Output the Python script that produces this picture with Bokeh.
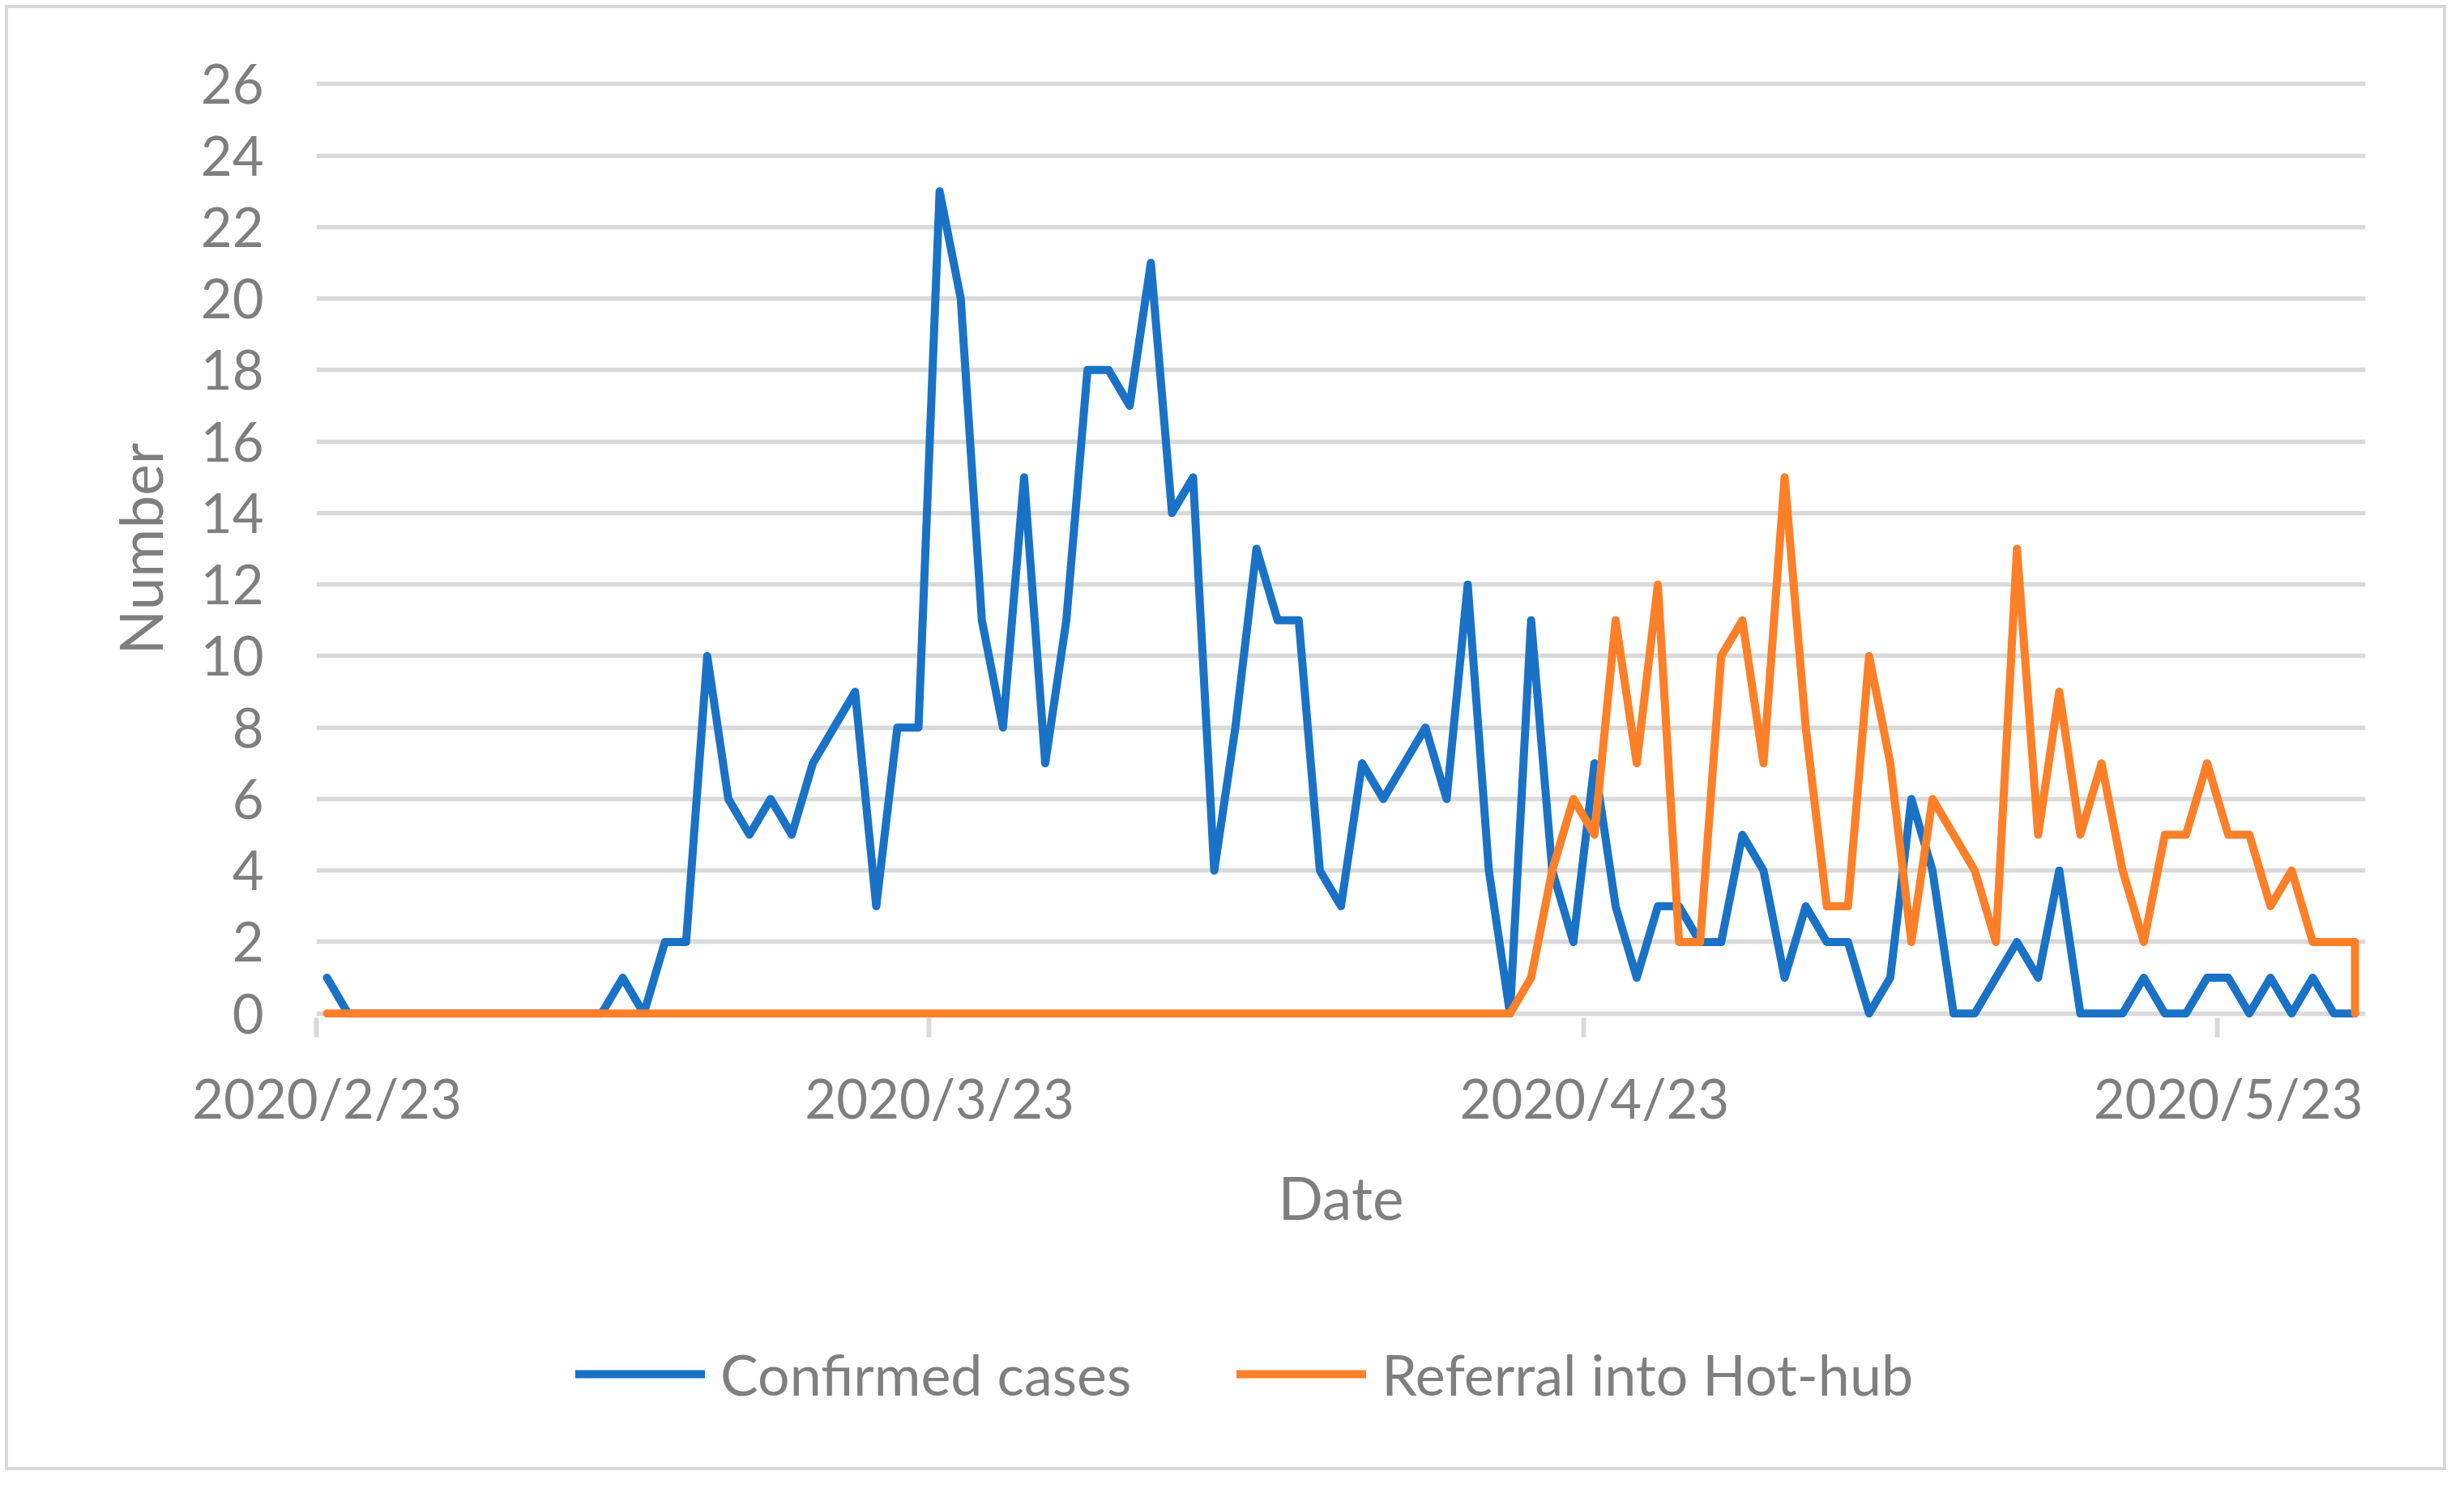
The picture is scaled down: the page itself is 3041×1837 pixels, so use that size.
import pandas as pd
from bokeh.plotting import figure
from bokeh.layouts import column
from bokeh.models import (Range1d, FixedTicker, LinearAxis, Legend, LegendItem)
from bokeh.embed import file_html
from bokeh.resources import INLINE

# ---------------- data ----------------
start_date = "2020-02-23"
end_date = "2020-05-29"
tick_dates = ["2020-02-23", "2020-03-23", "2020-04-23", "2020-05-23"]
tick_labels = ["2020/2/23", "2020/3/23", "2020/4/23", "2020/5/23"]
y_ticks = list(range(0, 27, 2))

confirmed = [1, 0, 0, 0, 0, 0, 0, 0, 0, 0, 0, 0, 0, 0, 1, 0, 2, 2, 10, 6,
             5, 6, 5, 7, 8, 9, 3, 8, 8, 23, 20, 11, 8, 15, 7, 11, 18, 18, 17, 21,
             14, 15, 4, 8, 13, 11, 11, 4, 3, 7, 6, 7, 8, 6, 12, 4, 0, 11, 4, 2,
             7, 3, 1, 3, 3, 2, 2, 5, 4, 1, 3, 2, 2, 0, 1, 6, 4, 0, 0, 1,
             2, 1, 4, 0, 0, 0, 1, 0, 0, 1, 1, 0, 1, 0, 1, 0, 0]
referral = [0] * 57 + [1, 4, 6,
            5, 11, 7, 12, 2, 2, 10, 11, 7, 15, 8, 3, 3, 10, 7, 2, 6, 5, 4, 2,
            13, 5, 9, 5, 7, 4, 2, 5, 5, 7, 5, 5, 3, 4, 2, 2, 2]
referral_end = 0  # final drop plotted on the last date
series_names = ["Confirmed cases", "Referral into Hot-hub"]

dates = pd.date_range(start_date, end_date, freq="D")
day = [(d - dates[0]).days for d in dates]
ref_day = day + [day[-1]]
ref_vals = referral + [referral_end]
tick_pos = [(pd.Timestamp(t) - dates[0]).days for t in tick_dates]

BLUE = "#1a72c7"
ORANGE = "#fd7f28"
GRID = "#d9d9d9"
TXT = "#7f7f7f"
FONT = "Lato"
LW = 10

W = 3025
H1 = 1600
H2 = 221

pad = 0.12
p = figure(width=W, height=H1, output_backend="svg", toolbar_location=None,
           x_range=Range1d(day[0] - 0.5, day[-1] + 0.5),
           y_range=Range1d(-pad, 26 + pad),
           min_border_left=390, min_border_right=106, min_border_top=98,
           min_border_bottom=H1 - 1256)
p.outline_line_color = None
p.border_fill_color = None
p.background_fill_color = None

# lines
r1 = p.line(day, confirmed, line_color=BLUE, line_width=LW,
            line_join="round", line_cap="round")
r2 = p.line(ref_day, ref_vals, line_color=ORANGE, line_width=LW,
            line_join="round", line_cap="round")

# y axis / grid
p.yaxis.ticker = FixedTicker(ticks=y_ticks)
p.yaxis.axis_line_color = None
p.yaxis.major_tick_line_color = None
p.yaxis.minor_tick_line_color = None
p.yaxis.major_tick_out = 0
p.yaxis.major_tick_in = 0
p.yaxis.major_label_standoff = 65
p.yaxis.major_label_text_font = FONT
p.yaxis.major_label_text_font_size = "67px"
p.yaxis.major_label_text_color = TXT
p.yaxis.axis_label = "Number"
p.yaxis.axis_label_text_font = FONT
p.yaxis.axis_label_text_font_size = "73px"
p.yaxis.axis_label_text_font_style = "normal"
p.yaxis.axis_label_text_color = TXT
p.yaxis.axis_label_standoff = 28
p.ygrid.ticker = FixedTicker(ticks=y_ticks)
p.ygrid.grid_line_color = GRID
p.ygrid.grid_line_width = 5.5
p.xgrid.grid_line_color = None

# x axis 1: tick marks at day boundaries
xa = p.xaxis[0]
xa.ticker = FixedTicker(ticks=[t - 0.5 for t in tick_pos])
xa.major_label_overrides = {t - 0.5: "" for t in tick_pos}
xa.major_label_text_font_size = "1px"
xa.major_label_standoff = 0
xa.axis_line_color = None
xa.major_tick_line_color = GRID
xa.major_tick_line_width = 6
xa.major_tick_out = 24
xa.major_tick_in = 0
xa.minor_tick_line_color = None

# x axis 2: labels centred on dates
xb = LinearAxis(ticker=FixedTicker(ticks=tick_pos),
                major_label_overrides={t: l for t, l in zip(tick_pos, tick_labels)})
xb.axis_line_color = None
xb.major_tick_line_color = None
xb.minor_tick_line_color = None
xb.major_tick_out = 0
xb.major_tick_in = 0
xb.major_label_standoff = 34
xb.major_label_text_font = FONT
xb.major_label_text_font_size = "67px"
xb.major_label_text_color = TXT
xb.axis_label = "Date"
xb.axis_label_text_font = FONT
xb.axis_label_text_font_size = "73px"
xb.axis_label_text_font_style = "normal"
xb.axis_label_text_color = TXT
xb.axis_label_standoff = 36
p.add_layout(xb, "below")

# ---------- legend strip (frame aligned with the main plot) ----------
p2 = figure(width=W, height=H2, output_backend="svg", toolbar_location=None,
            x_range=Range1d(0, 1), y_range=Range1d(0, 1),
            min_border=0, min_border_top=0, min_border_bottom=0)
p2.axis.visible = False
p2.grid.grid_line_color = None
p2.outline_line_color = None
p2.border_fill_color = None
p2.background_fill_color = None
nan = float("nan")
l1 = p2.line([nan], [nan], line_color=BLUE, line_width=LW, line_cap="round")
l2 = p2.line([nan], [nan], line_color=ORANGE, line_width=LW, line_cap="round")

legend = Legend(items=[LegendItem(label=series_names[0], renderers=[l1]),
                       LegendItem(label=series_names[1], renderers=[l2])],
                orientation="horizontal", location=(320, 83))
legend.label_text_font = FONT
legend.label_text_font_size = "70px"
legend.label_text_color = TXT
legend.glyph_width = 160
legend.glyph_height = 60
legend.label_height = 60
legend.label_standoff = 19
legend.spacing = 130
legend.padding = 0
legend.margin = 0
legend.border_line_color = None
legend.background_fill_alpha = 0
p2.add_layout(legend, "center")

layout = column(p, p2, spacing=0,
                styles={"background-color": "white",
                        "box-shadow": "inset 0 0 0 6px white, inset 0 0 0 10px #d9d9d9"})

open("out.html", "w").write(file_html(layout, INLINE))
